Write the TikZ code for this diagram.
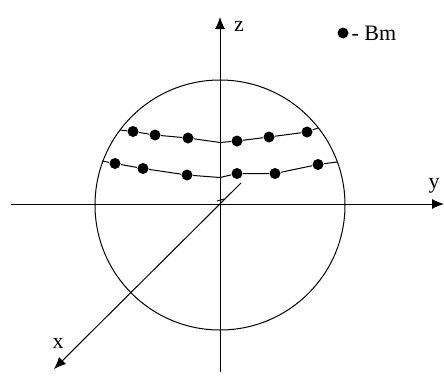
\documentclass[tikz,border=0pt]{standalone}
\usepackage{fontspec}
\setmainfont{Liberation Serif}
\usetikzlibrary{arrows.meta, positioning}

\begin{document}
\begin{tikzpicture}[
  x=1pt, y=-1pt,
  dot/.style={circle, fill=black, inner sep=0pt, minimum size=11pt},
  lbl/.style={font=\fontsize{22}{24}\selectfont, inner sep=0pt},
  arrow/.style={-{Latex[length=12pt,width=10pt]}},
  line width=1pt
]
\useasboundingbox (0,0) rectangle (444,375);

% Sphere
\coordinate (o) at (220,204);
\draw (220,205) circle (125);

% Axes
\coordinate (zlo) at (220,372);
\coordinate (zhi) at (220,17);
\coordinate (ylo) at (11,204);
\coordinate (yhi) at (444,204);
\coordinate (xlo) at (241,183);
\coordinate (xhi) at (54,369);
\draw[arrow] (zlo) -- (zhi);
\draw[arrow] (ylo) -- (yhi);
\draw[arrow] (xlo) -- (xhi);
\draw (217,201) -- (224,199);

% Labels
\node[lbl] (zl) at (239,26) {z};
\node[lbl] (yl) at (434,186) {y};
\node[lbl] (xl) at (58,343) {x};

% Upper row
\coordinate (ua) at (120,130);
\node[dot] (u1) at (133,131.5) {};
\node[dot] (u2) at (155,135) {};
\node[dot] (u3) at (188,138) {};
\coordinate (uc) at (220,142.5);
\node[dot] (u4) at (237,141) {};
\node[dot] (u5) at (269,137) {};
\node[dot] (u6) at (307,132) {};
\coordinate (ub) at (318,128);

% Lower row
\coordinate (la) at (102,161);
\node[dot] (l1) at (115,163.5) {};
\node[dot] (l2) at (143,168.5) {};
\node[dot] (l3) at (187,175) {};
\coordinate (lc) at (220,177.5);
\node[dot] (l4) at (237,173.5) {};
\node[dot] (l5) at (275,173.5) {};
\node[dot] (l6) at (318,164.5) {};
\coordinate (lb) at (337,162);

% Pointers
\draw (ua) -- (u1) -- (u2) -- (u3) -- (uc) -- (u4) -- (u5) -- (u6) -- (ub);
\draw (la) -- (l1) -- (l2) -- (l3) -- (lc) -- (l4) -- (l5) -- (l6) -- (lb);

% Legend
\node[dot] (key) at (343,33) {};
\node[lbl, right=2pt of key] (keytext) {- Bm};
\end{tikzpicture}
\end{document}
